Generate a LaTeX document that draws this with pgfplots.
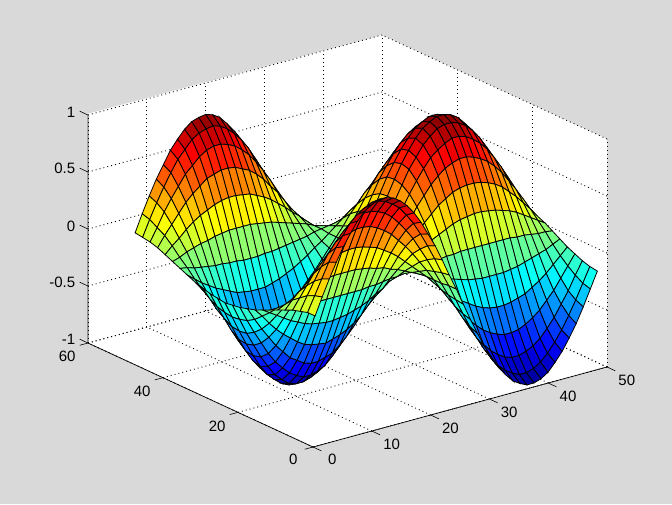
\documentclass[border=0pt]{standalone}
\usepackage{fontspec}
\setmainfont{Liberation Sans}
\usepackage{pgfplots}
\pgfplotsset{compat=1.18,
  colormap={matjet}{rgb255=(0,0,143) rgb255=(0,0,255) rgb255=(0,128,255) rgb255=(0,255,255) rgb255=(128,255,128) rgb255=(255,255,0) rgb255=(255,128,0) rgb255=(255,0,0) rgb255=(128,0,0)}}
\definecolor{figbg}{HTML}{D9D9D9}
\begin{document}
\begin{tikzpicture}[x=1pt,y=1pt]
\useasboundingbox (0,0) rectangle (672,504);
\fill[figbg] (0,0) rectangle (672,504);
\fill[white] (87,390)--(382,469)--(607,365)--(607,137)--(313,57)--(88,161)--cycle;
\begin{axis}[
  at={(313pt,171pt)}, anchor=origin,
  x={(5.88pt,1.6pt)}, y={(-3.75pt,1.733pt)}, z={(0pt,114pt)},
  xmin=0,xmax=50,ymin=0,ymax=60,zmin=-1,zmax=1,
  xtick={0,10,20,30,40,50}, ytick={0,20,40,60}, ztick={-1,-0.5,0,0.5,1},
  grid=major, grid style={black,line width=0.9pt,dash pattern=on 0.9pt off 3.1pt},
  axis line style={draw=none},
  tick pos=left,
  major tick length=8pt, tick align=outside, tick style={draw=none},
  /pgf/number format/assume math mode=true,
  tick label style={font=\fontsize{15}{17}\selectfont,text=black},
  xticklabel style={xshift=6pt},
  yticklabel style={xshift=-5pt,yshift=-1pt},
  zticklabel style={xshift=-2pt,yshift=-1pt},
  colormap name=matjet, point meta min=-1, point meta max=1,
  clip=false,
]
\draw[black,line width=0.7pt] (axis cs:0,60,1)--(axis cs:0,60,-1)--(axis cs:0,0,-1)--(axis cs:50,0,-1);
\draw[black,line width=0.6pt] (axis cs:0,0,-1)--(axis cs:0,-2.2,-1);
\draw[black,line width=0.6pt] (axis cs:10,0,-1)--(axis cs:10,-2.2,-1);
\draw[black,line width=0.6pt] (axis cs:20,0,-1)--(axis cs:20,-2.2,-1);
\draw[black,line width=0.6pt] (axis cs:30,0,-1)--(axis cs:30,-2.2,-1);
\draw[black,line width=0.6pt] (axis cs:40,0,-1)--(axis cs:40,-2.2,-1);
\draw[black,line width=0.6pt] (axis cs:50,0,-1)--(axis cs:50,-2.2,-1);
\draw[black,line width=0.6pt] (axis cs:0,0,-1)--(axis cs:-1.4,0,-1);
\draw[black,line width=0.6pt] (axis cs:0,20,-1)--(axis cs:-1.4,20,-1);
\draw[black,line width=0.6pt] (axis cs:0,40,-1)--(axis cs:-1.4,40,-1);
\draw[black,line width=0.6pt] (axis cs:0,60,-1)--(axis cs:-1.4,60,-1);
\draw[black,line width=0.6pt] (axis cs:0,60,-1)--(axis cs:0,62.2,-1);
\draw[black,line width=0.6pt] (axis cs:0,60,-0.5)--(axis cs:0,62.2,-0.5);
\draw[black,line width=0.6pt] (axis cs:0,60,0)--(axis cs:0,62.2,0);
\draw[black,line width=0.6pt] (axis cs:0,60,0.5)--(axis cs:0,62.2,0.5);
\draw[black,line width=0.6pt] (axis cs:0,60,1)--(axis cs:0,62.2,1);
\addplot3[surf, shader=faceted, faceted color=black, line width=0.8pt, z buffer=sort, mesh/rows=41, mesh/cols=25]
table[header=false, x expr={1+1.2*floor((\coordindex+0.5)/25)}, y expr={1+2*mod(\coordindex,25)}, z index=0] {
0.12
0.12
0.10
0.08
0.05
0.02
-0.01
-0.04
-0.07
-0.09
-0.11
-0.12
-0.13
-0.12
-0.11
-0.09
-0.07
-0.04
-0.01
0.02
0.05
0.08
0.10
0.11
0.12
0.27
0.25
0.22
0.17
0.12
0.05
-0.01
-0.08
-0.14
-0.20
-0.24
-0.26
-0.27
-0.26
-0.24
-0.20
-0.15
-0.09
-0.02
0.04
0.11
0.17
0.21
0.25
0.27
0.41
0.38
0.33
0.26
0.18
0.08
-0.02
-0.12
-0.22
-0.30
-0.36
-0.40
-0.41
-0.40
-0.36
-0.31
-0.23
-0.14
-0.04
0.07
0.16
0.25
0.33
0.38
0.41
0.54
0.51
0.44
0.35
0.23
0.11
-0.03
-0.16
-0.29
-0.39
-0.47
-0.52
-0.54
-0.53
-0.48
-0.40
-0.30
-0.18
-0.05
0.09
0.22
0.33
0.43
0.50
0.54
0.66
0.62
0.54
0.42
0.29
0.13
-0.04
-0.20
-0.35
-0.48
-0.58
-0.64
-0.66
-0.65
-0.59
-0.49
-0.37
-0.22
-0.06
0.11
0.27
0.41
0.52
0.61
0.65
0.76
0.71
0.62
0.49
0.33
0.15
-0.04
-0.23
-0.40
-0.55
-0.67
-0.74
-0.77
-0.75
-0.68
-0.57
-0.43
-0.25
-0.07
0.12
0.31
0.47
0.61
0.71
0.76
0.85
0.80
0.69
0.55
0.37
0.17
-0.05
-0.26
-0.45
-0.62
-0.74
-0.83
-0.86
-0.83
-0.76
-0.64
-0.47
-0.28
-0.07
0.14
0.34
0.52
0.67
0.78
0.84
0.92
0.86
0.75
0.59
0.40
0.18
-0.05
-0.28
-0.49
-0.66
-0.80
-0.89
-0.92
-0.90
-0.82
-0.69
-0.51
-0.31
-0.08
0.15
0.37
0.57
0.73
0.85
0.91
0.96
0.90
0.79
0.62
0.42
0.19
-0.05
-0.29
-0.51
-0.70
-0.84
-0.94
-0.97
-0.94
-0.86
-0.72
-0.54
-0.32
-0.08
0.16
0.39
0.59
0.77
0.89
0.96
0.99
0.93
0.81
0.64
0.43
0.19
-0.05
-0.30
-0.52
-0.72
-0.87
-0.96
-1
-0.97
-0.88
-0.74
-0.55
-0.33
-0.09
0.16
0.40
0.61
0.79
0.91
0.98
0.99
0.93
0.81
0.64
0.43
0.19
-0.05
-0.30
-0.53
-0.72
-0.87
-0.96
-1
-0.97
-0.88
-0.74
-0.55
-0.33
-0.09
0.16
0.40
0.61
0.79
0.92
0.99
0.97
0.91
0.79
0.63
0.42
0.19
-0.05
-0.29
-0.51
-0.70
-0.85
-0.94
-0.98
-0.95
-0.87
-0.73
-0.54
-0.33
-0.09
0.16
0.39
0.60
0.77
0.90
0.97
0.93
0.87
0.76
0.60
0.40
0.18
-0.05
-0.28
-0.49
-0.68
-0.82
-0.91
-0.94
-0.91
-0.83
-0.70
-0.52
-0.31
-0.08
0.15
0.38
0.57
0.74
0.86
0.93
0.87
0.82
0.71
0.56
0.38
0.17
-0.05
-0.26
-0.46
-0.63
-0.76
-0.85
-0.88
-0.85
-0.78
-0.65
-0.49
-0.29
-0.08
0.14
0.35
0.54
0.69
0.80
0.86
0.79
0.74
0.64
0.51
0.34
0.15
-0.04
-0.24
-0.42
-0.57
-0.69
-0.77
-0.79
-0.77
-0.70
-0.59
-0.44
-0.26
-0.07
0.13
0.32
0.49
0.63
0.73
0.78
0.69
0.65
0.56
0.44
0.30
0.14
-0.04
-0.21
-0.37
-0.50
-0.60
-0.67
-0.69
-0.68
-0.61
-0.52
-0.39
-0.23
-0.06
0.11
0.28
0.43
0.55
0.64
0.68
0.57
0.54
0.47
0.37
0.25
0.11
-0.03
-0.17
-0.30
-0.42
-0.50
-0.56
-0.58
-0.56
-0.51
-0.43
-0.32
-0.19
-0.05
0.09
0.23
0.35
0.46
0.53
0.57
0.45
0.42
0.36
0.29
0.19
0.09
-0.02
-0.14
-0.24
-0.32
-0.39
-0.43
-0.45
-0.44
-0.40
-0.33
-0.25
-0.15
-0.04
0.07
0.18
0.28
0.36
0.41
0.44
0.31
0.29
0.25
0.20
0.13
0.06
-0.02
-0.09
-0.16
-0.22
-0.27
-0.30
-0.31
-0.30
-0.28
-0.23
-0.17
-0.10
-0.03
0.05
0.12
0.19
0.25
0.29
0.31
0.16
0.15
0.13
0.11
0.07
0.03
-0.01
-0.05
-0.09
-0.12
-0.14
-0.16
-0.17
-0.16
-0.15
-0.12
-0.09
-0.06
-0.01
0.03
0.07
0.10
0.13
0.15
0.16
0.02
0.02
0.01
0.01
0.01
0
0
-0.01
-0.01
-0.01
-0.01
-0.02
-0.02
-0.02
-0.02
-0.01
-0.01
-0.01
0
0
0.01
0.01
0.01
0.02
0.02
-0.13
-0.12
-0.11
-0.09
-0.06
-0.03
0.01
0.04
0.07
0.10
0.12
0.13
0.13
0.13
0.12
0.10
0.07
0.04
0.01
-0.02
-0.05
-0.08
-0.10
-0.12
-0.13
-0.28
-0.26
-0.23
-0.18
-0.12
-0.05
0.02
0.08
0.15
0.20
0.24
0.27
0.28
0.27
0.25
0.21
0.16
0.09
0.02
-0.05
-0.11
-0.17
-0.22
-0.26
-0.28
-0.42
-0.39
-0.34
-0.27
-0.18
-0.08
0.02
0.13
0.22
0.30
0.37
0.41
0.42
0.41
0.37
0.31
0.23
0.14
0.04
-0.07
-0.17
-0.26
-0.33
-0.39
-0.41
-0.55
-0.51
-0.45
-0.35
-0.24
-0.11
0.03
0.17
0.29
0.40
0.48
0.53
0.55
0.54
0.49
0.41
0.31
0.18
0.05
-0.09
-0.22
-0.34
-0.43
-0.51
-0.54
-0.66
-0.62
-0.54
-0.43
-0.29
-0.13
0.04
0.20
0.35
0.48
0.58
0.65
0.67
0.65
0.59
0.50
0.37
0.22
0.06
-0.11
-0.27
-0.41
-0.53
-0.61
-0.66
-0.77
-0.72
-0.63
-0.49
-0.33
-0.15
0.04
0.23
0.41
0.56
0.67
0.74
0.77
0.75
0.68
0.57
0.43
0.26
0.07
-0.13
-0.31
-0.47
-0.61
-0.71
-0.76
-0.85
-0.80
-0.70
-0.55
-0.37
-0.17
0.05
0.26
0.45
0.62
0.75
0.83
0.86
0.83
0.76
0.64
0.48
0.28
0.07
-0.14
-0.34
-0.53
-0.68
-0.79
-0.85
-0.92
-0.86
-0.75
-0.59
-0.40
-0.18
0.05
0.28
0.49
0.67
0.80
0.89
0.93
0.90
0.82
0.69
0.51
0.31
0.08
-0.15
-0.37
-0.57
-0.73
-0.85
-0.91
-0.96
-0.90
-0.79
-0.62
-0.42
-0.19
0.05
0.29
0.51
0.70
0.84
0.94
0.97
0.94
0.86
0.72
0.54
0.32
0.08
-0.16
-0.39
-0.60
-0.77
-0.89
-0.96
-0.99
-0.93
-0.81
-0.64
-0.43
-0.19
0.05
0.30
0.52
0.72
0.87
0.96
1
0.97
0.88
0.74
0.55
0.33
0.09
-0.16
-0.40
-0.61
-0.79
-0.91
-0.98
-0.99
-0.93
-0.81
-0.64
-0.43
-0.19
0.05
0.30
0.52
0.72
0.87
0.96
1
0.97
0.88
0.74
0.55
0.33
0.09
-0.16
-0.40
-0.61
-0.79
-0.92
-0.99
-0.97
-0.91
-0.79
-0.63
-0.42
-0.19
0.05
0.29
0.51
0.70
0.85
0.94
0.98
0.95
0.87
0.73
0.54
0.32
0.09
-0.16
-0.39
-0.60
-0.77
-0.90
-0.97
-0.93
-0.87
-0.76
-0.60
-0.40
-0.18
0.05
0.28
0.49
0.67
0.81
0.90
0.94
0.91
0.83
0.69
0.52
0.31
0.08
-0.15
-0.37
-0.57
-0.74
-0.86
-0.92
-0.86
-0.81
-0.71
-0.56
-0.38
-0.17
0.05
0.26
0.46
0.63
0.76
0.84
0.87
0.85
0.77
0.65
0.48
0.29
0.08
-0.14
-0.35
-0.53
-0.69
-0.80
-0.86
-0.78
-0.73
-0.64
-0.51
-0.34
-0.15
0.04
0.24
0.42
0.57
0.69
0.76
0.79
0.77
0.70
0.59
0.44
0.26
0.07
-0.13
-0.32
-0.48
-0.62
-0.72
-0.78
-0.68
-0.64
-0.56
-0.44
-0.30
-0.13
0.04
0.21
0.36
0.50
0.60
0.66
0.69
0.67
0.61
0.51
0.38
0.23
0.06
-0.11
-0.28
-0.42
-0.54
-0.63
-0.68
-0.57
-0.53
-0.46
-0.37
-0.25
-0.11
0.03
0.17
0.30
0.41
0.50
0.55
0.57
0.56
0.51
0.43
0.32
0.19
0.05
-0.09
-0.23
-0.35
-0.45
-0.53
-0.57
-0.44
-0.41
-0.36
-0.28
-0.19
-0.09
0.02
0.13
0.23
0.32
0.39
0.43
0.44
0.43
0.39
0.33
0.25
0.15
0.04
-0.07
-0.18
-0.27
-0.35
-0.41
-0.44
-0.30
-0.28
-0.24
-0.19
-0.13
-0.06
0.02
0.09
0.16
0.22
0.26
0.29
0.30
0.29
0.27
0.22
0.17
0.10
0.03
-0.05
-0.12
-0.19
-0.24
-0.28
-0.30
-0.16
-0.15
-0.13
-0.10
-0.07
-0.03
0.01
0.05
0.08
0.11
0.14
0.15
0.16
0.15
0.14
0.12
0.09
0.05
0.01
-0.03
-0.06
-0.10
-0.12
-0.14
-0.15
};
\end{axis}
\end{tikzpicture}
\end{document}
